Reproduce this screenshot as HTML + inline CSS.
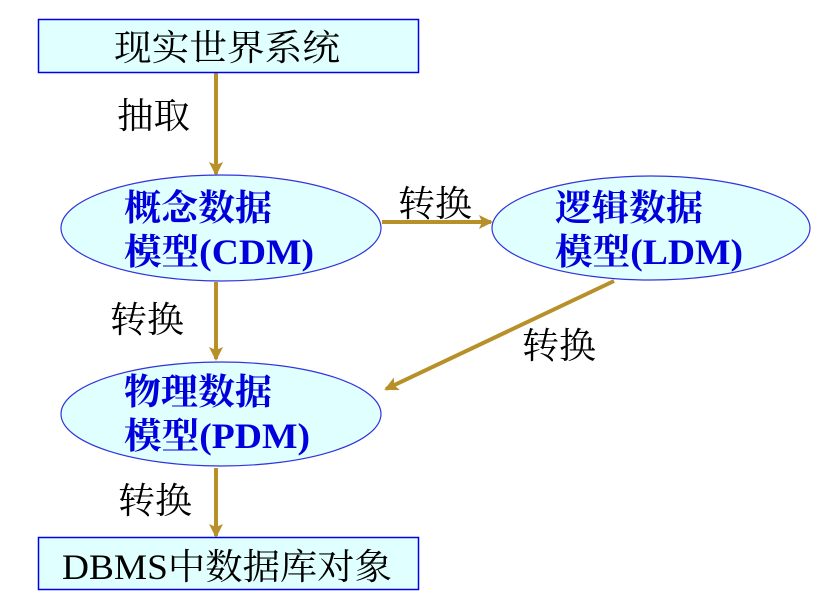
<!DOCTYPE html>
<html><head><meta charset="utf-8"><style>
body{margin:0;background:#fff;width:824px;height:595px;overflow:hidden}
</style></head><body>
<svg width="824" height="595" xmlns="http://www.w3.org/2000/svg" font-family="'Liberation Serif','Noto Serif CJK SC',serif">
<defs><marker id="a" markerWidth="14" markerHeight="14" refX="12" refY="7" orient="auto" markerUnits="userSpaceOnUse"><path d="M0,0 L14,7 L0,14 L3,7 Z" fill="#b8902a"/></marker></defs>
<g stroke="#b8902a" stroke-width="4" fill="none">
<line x1="216" y1="72" x2="216" y2="174" marker-end="url(#a)"/>
<line x1="216" y1="282" x2="216" y2="359" marker-end="url(#a)"/>
<line x1="216" y1="468" x2="216" y2="536" marker-end="url(#a)"/>
<line x1="382" y1="222" x2="491" y2="222" marker-end="url(#a)"/>
<line x1="614" y1="281" x2="386" y2="389" marker-end="url(#a)"/>
</g>
<rect x="38.5" y="19.5" width="380" height="53" fill="#e0ffff" stroke="#0000ee" stroke-width="1.5"/>
<rect x="38.5" y="537.5" width="380" height="52" fill="#e0ffff" stroke="#0000ee" stroke-width="1.5"/>
<ellipse cx="221" cy="228" rx="160" ry="53" fill="#e0ffff" stroke="#3333dd" stroke-width="1.2"/>
<ellipse cx="221" cy="414" rx="160" ry="52" fill="#e0ffff" stroke="#3333dd" stroke-width="1.2"/>
<ellipse cx="651" cy="228" rx="159" ry="52" fill="#e0ffff" stroke="#3333dd" stroke-width="1.2"/>
<g font-size="36" fill="#000">
<text x="114" y="60" textLength="226" lengthAdjust="spacingAndGlyphs">现实世界系统</text>
<text x="62" y="579" textLength="330" lengthAdjust="spacingAndGlyphs">DBMS中数据库对象</text>
<text x="117" y="128" textLength="73" lengthAdjust="spacingAndGlyphs">抽取</text>
<text x="398" y="216" textLength="74" lengthAdjust="spacingAndGlyphs">转换</text>
<text x="110" y="332" textLength="74" lengthAdjust="spacingAndGlyphs">转换</text>
<text x="522" y="358" textLength="74" lengthAdjust="spacingAndGlyphs">转换</text>
<text x="118" y="513" textLength="74" lengthAdjust="spacingAndGlyphs">转换</text>
</g>
<g font-size="36" fill="#0000dd" font-weight="bold">
<text x="124" y="220" textLength="148" lengthAdjust="spacingAndGlyphs">概念数据</text>
<text x="124" y="264" textLength="190" lengthAdjust="spacingAndGlyphs">模型(CDM)</text>
<text x="555" y="220" textLength="148" lengthAdjust="spacingAndGlyphs">逻辑数据</text>
<text x="555" y="264" textLength="188" lengthAdjust="spacingAndGlyphs">模型(LDM)</text>
<text x="124" y="404" textLength="148" lengthAdjust="spacingAndGlyphs">物理数据</text>
<text x="124" y="448" textLength="186" lengthAdjust="spacingAndGlyphs">模型(PDM)</text>
</g>
</svg>
</body></html>
